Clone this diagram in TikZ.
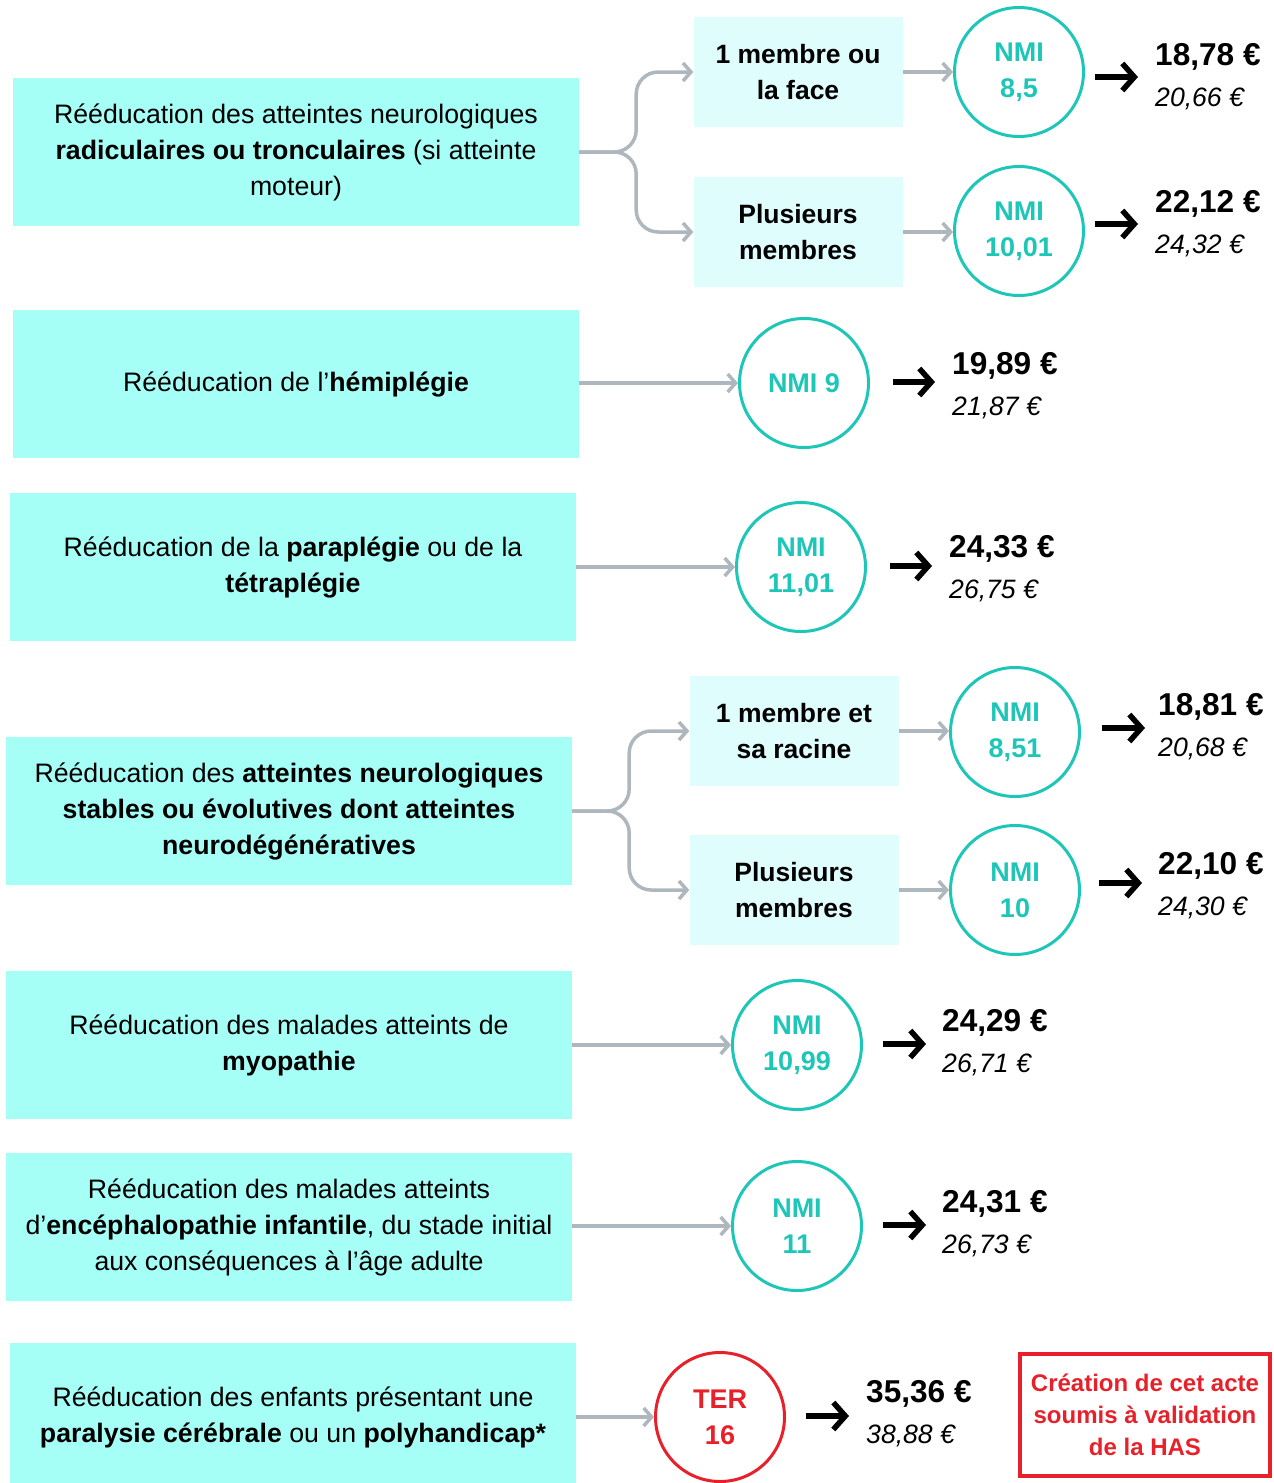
\documentclass[tikz,border=0pt]{standalone}
\usepackage{fontspec}
\setmainfont{Liberation Sans}
\usetikzlibrary{arrows.meta,calc}
\definecolor{boxc}{HTML}{A6FFF7}
\definecolor{subc}{HTML}{E0FDFD}
\definecolor{tealc}{HTML}{1EC6B7}
\definecolor{grayc}{HTML}{AEB7BE}
\definecolor{redc}{HTML}{E8202A}
\begin{document}
\begin{tikzpicture}[x=1pt,y=-1pt,
 mainbox/.style={fill=boxc, minimum width=566, minimum height=148, inner sep=0, align=center, font=\fontsize{26.7}{36}\selectfont},
 subbox/.style={fill=subc, minimum width=209, minimum height=110, inner sep=0, align=center, font=\fontsize{26.5}{36}\selectfont\bfseries},
 nmi/.style={circle, draw=tealc, line width=3, minimum size=129, inner sep=0, align=center, text=tealc, font=\fontsize{27}{36}\selectfont\bfseries},
 ter/.style={nmi, draw=redc, text=redc},
 pbold/.style={anchor=west, inner sep=0, font=\fontsize{31.6}{36}\selectfont\bfseries},
 pital/.style={anchor=west, inner sep=0, font=\fontsize{26.6}{36}\selectfont\itshape},
 garr/.style={draw=grayc, line width=3.5, -{Straight Barb[length=8pt,width=18pt]}},
 blk/.style={draw=black, line width=5.5, -{Straight Barb[length=12pt,width=27pt]}},
 note/.style={draw=redc, line width=4, minimum width=250, minimum height=122, inner sep=0, align=center, text=redc, font=\fontsize{24}{32}\selectfont\bfseries}
]
\useasboundingbox (0,0) rectangle (1274,1483);

% Row A
\node[mainbox] (A) at (296,152) {Rééducation des atteintes neurologiques\\\textbf{radiculaires ou tronculaires} (si atteinte\\moteur)};
\node[subbox] (A1) at (798,72) {1 membre ou\\la face};
\node[subbox] (A2) at (798,232) {Plusieurs\\membres};
\node[nmi] (cA1) at (1019,72) {NMI\\8,5};
\node[nmi] (cA2) at (1019,231) {NMI\\10,01};
\draw[garr, rounded corners=22] (A.east) -- ++(57,0) |- (A1.west);
\draw[garr, rounded corners=22] (A.east) -- ++(57,0) |- (A2.west);
\draw[garr] (A1.east) -- (cA1.west);
\draw[garr] (A2.east) -- (cA2.west |- A2.east);
\node[pbold] (pA1) at (1155,57) {18,78 €};
\node[pital] (qA1) at (1155,99) {20,66 €};
\node[pbold] (pA2) at (1155,204) {22,12 €};
\node[pital] (qA2) at (1155,246) {24,32 €};
\coordinate (a1s) at (1095,77); \coordinate (a1e) at (1138,77);
\coordinate (a2s) at (1095,224); \coordinate (a2e) at (1138,224);
\draw[blk] (a1s) -- (a1e);
\draw[blk] (a2s) -- (a2e);

% Row B
\node[mainbox] (B) at (296,384) {Rééducation de l’\textbf{hémiplégie}};
\node[nmi] (cB) at (804,383) {NMI 9};
\draw[garr] (B.east |- cB.west) -- (cB.west);
\node[pbold] (pB) at (952,366) {19,89 €};
\node[pital] (qB) at (952,408) {21,87 €};
\coordinate (bs) at (893,382); \coordinate (be) at (935,382);
\draw[blk] (bs) -- (be);

% Row C
\node[mainbox] (C) at (293,567) {Rééducation de la \textbf{paraplégie} ou de la\\\textbf{tétraplégie}};
\node[nmi] (cC) at (801,567) {NMI\\11,01};
\draw[garr] (C.east) -- (cC.west);
\node[pbold] (pC) at (949,549) {24,33 €};
\node[pital] (qC) at (949,591) {26,75 €};
\coordinate (cs) at (890,566); \coordinate (ce) at (932,566);
\draw[blk] (cs) -- (ce);

% Row D
\node[mainbox] (D) at (289,811) {Rééducation des \textbf{atteintes neurologiques}\\\textbf{stables ou évolutives dont atteintes}\\\textbf{neurodégénératives}};
\node[subbox] (D1) at (794,731) {1 membre et\\sa racine};
\node[subbox] (D2) at (794,890) {Plusieurs\\membres};
\node[nmi] (cD1) at (1015,732) {NMI\\8,51};
\node[nmi] (cD2) at (1015,890) {NMI\\10};
\draw[garr, rounded corners=22] (D.east) -- ++(57,0) |- (D1.west);
\draw[garr, rounded corners=22] (D.east) -- ++(57,0) |- (D2.west);
\draw[garr] (D1.east) -- (cD1.west |- D1.east);
\draw[garr] (D2.east) -- (cD2.west);
\node[pbold] (pD1) at (1158,707) {18,81 €};
\node[pital] (qD1) at (1158,749) {20,68 €};
\node[pbold] (pD2) at (1158,866) {22,10 €};
\node[pital] (qD2) at (1158,908) {24,30 €};
\coordinate (d1s) at (1102,728); \coordinate (d1e) at (1145,728);
\coordinate (d2s) at (1099,883); \coordinate (d2e) at (1142,883);
\draw[blk] (d1s) -- (d1e);
\draw[blk] (d2s) -- (d2e);

% Row E
\node[mainbox] (E) at (289,1045) {Rééducation des malades atteints de\\\textbf{myopathie}};
\node[nmi] (cE) at (797,1045) {NMI\\10,99};
\draw[garr] (E.east) -- (cE.west);
\node[pbold] (pE) at (942,1023) {24,29 €};
\node[pital] (qE) at (942,1065) {26,71 €};
\coordinate (es) at (883,1044); \coordinate (ee) at (926,1044);
\draw[blk] (es) -- (ee);

% Row F
\node[mainbox] (F) at (289,1227) {Rééducation des malades atteints\\d’\textbf{encéphalopathie infantile}, du stade initial\\aux conséquences à l’âge adulte};
\node[nmi] (cF) at (797,1226) {NMI\\11};
\draw[garr] (F.east |- cF.west) -- (cF.west);
\node[pbold] (pF) at (942,1204) {24,31 €};
\node[pital] (qF) at (942,1246) {26,73 €};
\coordinate (fs) at (883,1225); \coordinate (fe) at (926,1225);
\draw[blk] (fs) -- (fe);

% Row G
\node[mainbox] (G) at (293,1417) {Rééducation des enfants présentant une\\\textbf{paralysie cérébrale} ou un \textbf{polyhandicap*}};
\node[ter] (cG) at (720,1417) {TER\\16};
\draw[garr] (G.east) -- (cG.west);
\node[pbold] (pG) at (866,1394) {35,36 €};
\node[pital] (qG) at (866,1436) {38,88 €};
\coordinate (gs) at (806,1416); \coordinate (ge) at (849,1416);
\draw[blk] (gs) -- (ge);
\node[note] (N) at (1145,1415) {Création de cet acte\\soumis à validation\\de la HAS};
\end{tikzpicture}
\end{document}
